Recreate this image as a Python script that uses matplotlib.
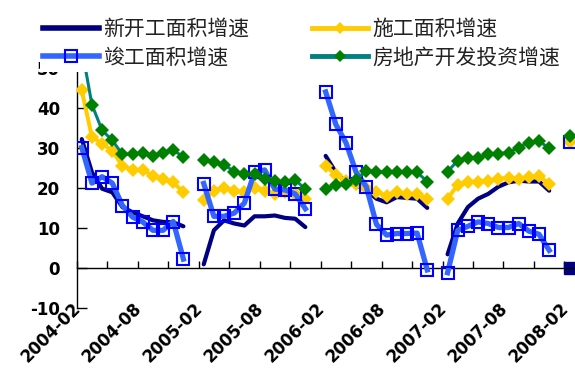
import numpy as np
import matplotlib.pyplot as plt
from matplotlib.lines import Line2D
from matplotlib.transforms import ScaledTranslation

plt.rcParams["font.family"] = ["DejaVu Sans"]
plt.rcParams["axes.unicode_minus"] = False

nan = np.nan

# Monthly categories, Feb 2004 .. Feb 2008 (January is reported jointly with February)
months = [f"{2004 + (m + 1) // 12}-{(m + 1) % 12 + 1:02d}" for m in range(49)]
label_every = 6

# Year-on-year growth rates (%)
new_start = [32.3, 24.0, 19.9, 19.0, 15.3, 14.0, 13.0, 12.0, 11.6, 11.5, 10.5, nan,
             1.0, 9.5, 12.0, 11.2, 10.7, 13.0, 13.0, 13.2, 12.6, 12.4, 10.3, nan,
             28.1, 24.0, 21.5, 20.7, 19.6, 17.4, 16.5, 17.8, 17.6, 17.4, 15.1, nan,
             3.5, 11.2, 15.3, 17.4, 18.6, 20.4, 21.5, 21.9, 21.7, 21.7, 19.4, nan,
             0.0]
under_construction = [44.5, 32.8, 31.2, 29.4, 25.6, 24.6, 24.6, 23.1, 22.3, 21.5, 19.0, nan,
                      17.1, 19.4, 20.2, 19.4, 19.0, 20.2, 19.4, 18.6, 19.0, 18.6, 17.4, nan,
                      25.6, 23.4, 21.9, 21.1, 20.2, 19.0, 18.2, 19.0, 18.6, 18.6, 17.4, nan,
                      17.4, 20.9, 21.5, 21.7, 21.9, 22.3, 22.7, 22.3, 22.9, 23.1, 21.1, nan,
                      31.6]
completed = [30.2, 21.3, 22.9, 21.3, 15.7, 12.8, 11.6, 9.5, 9.5, 11.7, 2.3, nan,
             21.2, 13.0, 13.0, 13.8, 16.3, 24.0, 24.6, 19.8, 19.6, 18.6, 14.9, nan,
             44.1, 36.0, 31.4, 24.0, 20.4, 11.0, 8.3, 8.7, 8.7, 8.8, -0.4, nan,
             -1.1, 9.5, 10.5, 11.6, 11.2, 10.2, 10.2, 11.2, 9.3, 8.5, 4.5, nan,
             31.5]
investment = [55.0, 40.9, 34.5, 32.0, 28.5, 28.5, 28.9, 28.1, 28.9, 29.5, 27.9, nan,
              27.0, 26.5, 25.9, 24.2, 23.6, 23.6, 22.3, 21.9, 21.5, 22.1, 19.8, nan,
              19.8, 20.9, 21.2, 22.1, 24.4, 24.2, 24.0, 24.2, 24.2, 24.0, 21.7, nan,
              24.2, 26.9, 27.5, 27.5, 28.5, 28.7, 28.9, 30.2, 31.4, 31.8, 30.0, nan,
              33.0]

series_names = ["新开工面积增速", "施工面积增速", "竣工面积增速", "房地产开发投资增速"]
y_ticks = [-10, 0, 10, 20, 30, 40, 50]

x = np.arange(len(months))

fig = plt.figure(figsize=(5.75, 3.72), dpi=100)
ax = fig.add_axes([0.1334, 0.1712, 0.8666, 0.6452])

styles = {
    "new": dict(color="#000080", lw=3.0, zorder=2),
    "uc": dict(color="#FFCC00", lw=2.9, marker="D", ms=7.0, mfc="#FFCC00",
               mec="#FFCC00", mew=0, zorder=3),
    "done": dict(color="#3366FF", lw=3.8, marker="s", ms=8.4, mfc="none",
                 mec="#0000FF", mew=1.5, zorder=4),
    "inv": dict(color="#008080", lw=2.2, marker="D", ms=7.0, mfc="#008000",
                mec="#008000", mew=0, zorder=5),
}

ax.plot(x, new_start, **styles["new"], solid_capstyle="round")
# the final month of the new-start series is shown as a single square point
ax.plot(x, new_start, ls="none", marker="s", ms=9.0, color="#000080",
        markevery=[len(x) - 1], zorder=2)
ax.plot(x, under_construction, **styles["uc"])
ax.plot(x, completed, **styles["done"])
ax.plot(x, investment, **styles["inv"])

ax.set_xlim(-0.5, 48.54)
ax.set_ylim(-10, 50)

# axes styling: y axis on the left, category axis drawn through zero
for side in ("top", "right"):
    ax.spines[side].set_visible(False)
ax.spines["bottom"].set_position(("data", 0))
ax.spines["left"].set_linewidth(1.0)
ax.spines["bottom"].set_linewidth(1.0)

ax.set_yticks(y_ticks, [str(v) for v in y_ticks],
              fontdict=dict(family="DejaVu Sans", weight="bold", size=12))
ax.tick_params(axis="y", direction="in", length=7, width=1, pad=12)

boundaries = np.arange(-0.5, len(months), 3)
ax.set_xticks(boundaries)
ax.tick_params(axis="x", direction="in", length=5, width=1, labelbottom=False)

# month labels along the bottom edge
sec = ax.secondary_xaxis("bottom")
label_pos = x[::label_every]
sec.set_xticks(label_pos, [months[i] for i in label_pos],
               fontdict=dict(family="DejaVu Sans", weight="bold", size=12))
sec.spines["bottom"].set_visible(False)
sec.tick_params(axis="x", length=0, pad=0)
shift = ScaledTranslation(-0.10, 0.09, fig.dpi_scale_trans)
for lab in sec.get_xticklabels():
    lab.set_rotation(45)
    lab.set_ha("right")
    lab.set_va("top")
    lab.set_rotation_mode("anchor")
    lab.set_transform(lab.get_transform() + shift)

handles = [
    Line2D([], [], color="#000080", lw=4.0),
    Line2D([], [], color="#3366FF", lw=4.0, marker="s", ms=8.0, mfc="none",
           mec="#0000FF", mew=1.5),
    Line2D([], [], color="#FFCC00", lw=3.5, marker="D", ms=6.0, mfc="#FFCC00",
           mec="#FFCC00", mew=0),
    Line2D([], [], color="#008080", lw=3.5, marker="D", ms=6.0, mfc="#008000",
           mec="#008000", mew=0),
]
labels = [series_names[0], series_names[2], series_names[1], series_names[3]]
leg = fig.legend(handles, labels, ncol=2, loc="center left",
                 bbox_to_anchor=(0.0696, 0.884), borderaxespad=0,
                 frameon=True, fancybox=False, facecolor="white",
                 edgecolor="none", framealpha=1, borderpad=0.15,
                 handlelength=2.7, handletextpad=0.2, columnspacing=3.0,
                 labelspacing=0.32,
                 prop={"family": ["Noto Sans CJK SC", "DejaVu Sans"],
                       "size": 15, "weight": "normal"})
for t in leg.get_texts():
    t.set_color("#222222")

fig.savefig("out.png", dpi=100)
